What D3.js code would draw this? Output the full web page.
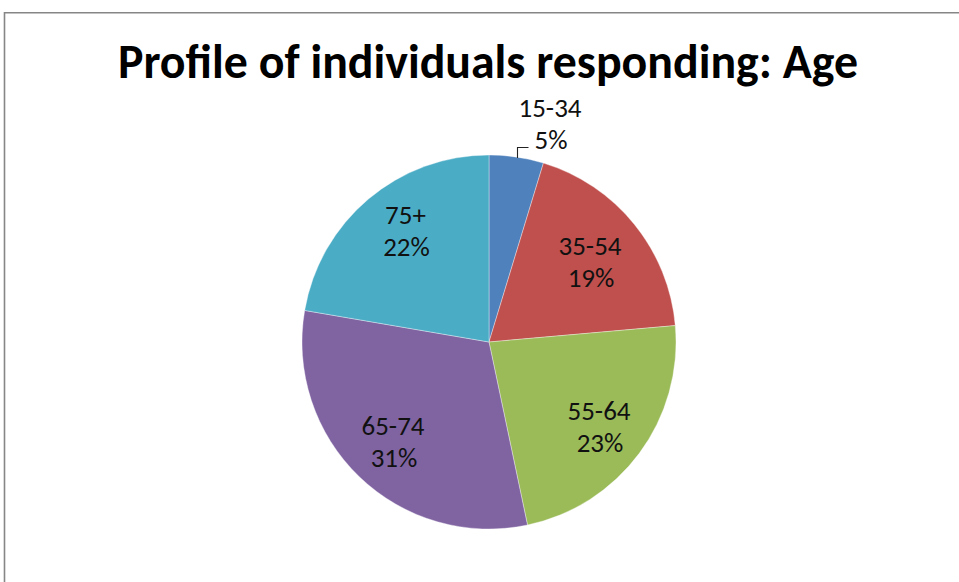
<!DOCTYPE html>
<html>
<head>
<meta charset="utf-8">
<script src="https://cdn.jsdelivr.net/npm/d3@7"></script>
<style>
  html, body { margin: 0; padding: 0; background: #fff; }
  svg { display: block; }
  text { font-family: 'Carlito', 'Liberation Sans Narrow', 'Liberation Sans', sans-serif; }
</style>
</head>
<body>
<svg id="chart" width="959" height="582"></svg>
<script>
const title = "Profile of individuals responding: Age";
const categories = ["15-34", "35-54", "55-64", "65-74", "75+"];
const values = [4.7, 18.9, 23.1, 31.0, 22.3];
const colors = ["#4F81BD", "#C0504D", "#9BBB59", "#8064A2", "#4BACC6"];

const svg = d3.select("#chart");
const W = 959, H = 582;

// border (left and top visible)
svg.append("path")
  .attr("d", `M4.5,${H} L4.5,12.7 L${W},12.7`)
  .attr("fill", "none").attr("stroke", "#868686").attr("stroke-width", 1.6);

function fitWidth(sel, target) {
  let fs = parseFloat(sel.attr("font-size"));
  for (let i = 0; i < 4; i++) {
    const w = sel.node().getComputedTextLength();
    if (w > 0) fs = fs * target / w;
    sel.attr("font-size", fs);
  }
  return fs;
}

// title
const t = svg.append("text")
  .attr("x", 488).attr("y", 78)
  .attr("text-anchor", "middle")
  .attr("font-weight", "bold")
  .attr("font-size", 40)
  .attr("fill", "#000")
  .text(title);
fitWidth(t, 740);

const cx = 489, cy = 342, r = 187;
const g = svg.append("g").attr("transform", `translate(${cx},${cy})`);

const pie = d3.pie().sort(null).value(d => d.value);
const data = pie(categories.map((c, i) => ({ cat: c, value: values[i], color: colors[i] })));
const arc = d3.arc().innerRadius(0).outerRadius(r);

g.selectAll("path.slice").data(data).enter().append("path")
  .attr("class", "slice")
  .attr("d", arc)
  .attr("fill", d => d.data.color)
  .attr("stroke", "#ffffff")
  .attr("stroke-opacity", 0.6)
  .attr("stroke-width", 0.6);

// label font size from reference label width
const probe = svg.append("text").attr("font-size", 22).text("65-74");
const labelFs = fitWidth(probe, 63);
probe.remove();

// label anchor offsets (relative to pie centre): first-line baseline
const labelPos = [[61, -225], [101, -87], [110, 78], [-96, 93], [-83.5, -118]];
const total = d3.sum(values);
data.forEach((d, i) => {
  const [lx, ly] = labelPos[i];
  const pct = Math.round(d.data.value / total * 100) + "%";
  const txt = g.append("text")
    .attr("text-anchor", "middle")
    .attr("font-size", labelFs)
    .attr("fill", "#111");
  txt.append("tspan").attr("x", lx).attr("y", ly).text(d.data.cat);
  txt.append("tspan").attr("x", lx + 1).attr("y", ly + 32).text(pct);
  if (i === 0) {
    const a = (d.startAngle + d.endAngle) / 2;
    const ex = Math.round(Math.sin(a) * r) + 0.5, ey = -Math.cos(a) * r + 1;
    g.append("path")
      .attr("d", `M${ex},${ey} L${ex},${ey - 10.5} L${ex + 11},${ey - 10.5}`)
      .attr("fill", "none").attr("stroke", "#222").attr("stroke-width", 1.1);
  }
});
</script>
</body>
</html>
